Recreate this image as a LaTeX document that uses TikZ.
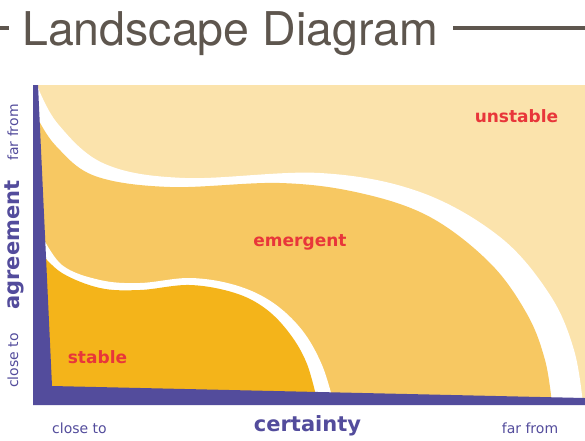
\documentclass[tikz,border=0pt]{standalone}
\usepackage{fontspec}
\setmainfont{DejaVu Sans}
\newfontfamily\headfont{TeX Gyre Heros}
\definecolor{paleyel}{RGB}{251,227,172}
\definecolor{midyel}{RGB}{247,200,98}
\definecolor{deepyel}{RGB}{244,180,26}
\definecolor{axisblue}{RGB}{83,76,156}
\definecolor{zonered}{RGB}{232,54,58}
\definecolor{headgray}{RGB}{94,86,78}

\begin{document}
\begin{tikzpicture}[x=1pt,y=-1pt,
  zonelabel/.style={text=zonered,font=\bfseries\fontsize{17}{20}\selectfont,
    anchor=base,inner sep=0pt},
  axislabel/.style={text=axisblue,font=\fontsize{14}{16}\selectfont,inner sep=0pt},
  axistitle/.style={text=axisblue,font=\bfseries\fontsize{21}{24}\selectfont,
    inner sep=0pt},
  headrule/.style={headgray,line width=3.5pt}]
  \useasboundingbox[fill=white] (0,0) rectangle (585,440);

  % title with its two rules
  \node[anchor=base west,inner sep=0pt,text=headgray,
    font=\headfont\fontsize{46.5}{50}\selectfont] (title) at (22,45)
    {Landscape Diagram};
  \coordinate (rule a) at (0,28);
  \coordinate (rule b) at (453,28);
  \draw[headrule] (rule a) -- ++(9,0);
  \draw[headrule] (rule b) -- (585,28);

  % the three zones, outermost first
  \fill[paleyel] (36,85) rectangle (585,404);
  \fill[white] plot[smooth,tension=0.6] coordinates {(37,85) (58,124)
    (105,164) (185,178) (320,173) (420,192) (500,237) (550,295) (574,350)
    (583,404)} -- (36,404) -- cycle;
  \fill[midyel] plot[smooth,tension=0.6] coordinates {(37,117) (56,146)
    (95,176) (170,187) (280,183) (360,193) (430,217) (490,263) (527,314)
    (545,360) (552,404)} -- (36,404) -- cycle;
  \fill[white] plot[smooth,tension=0.6] coordinates {(40,232) (62,265)
    (100,280) (140,283) (190,278) (235,285) (272,302) (302,330) (322,365)
    (334,404)} -- (36,404) -- cycle;
  \fill[deepyel] plot[smooth,tension=0.6] coordinates {(40,252) (62,273)
    (100,288) (140,290) (190,285) (235,293) (266,309) (290,334) (307,364)
    (318,404)} -- (36,404) -- cycle;

  % wedge-shaped axes
  \fill[axisblue] (33,85) -- (38,85) -- (52,386) -- (585,398) -- (585,405)
    -- (33,405) -- cycle;

  \node[zonelabel] (unstable) at (516.5,122) {unstable};
  \node[zonelabel] (emergent) at (300,246) {emergent};
  \node[zonelabel] (stable) at (97.5,363) {stable};

  % axis texts
  \node[axislabel,anchor=base] (x near) at (79.5,433) {close to};
  \node[axistitle,anchor=base] (x title) at (307.5,431) {certainty};
  \node[axislabel,anchor=base] (x far) at (530,433) {far from};
  \node[axislabel,rotate=90] (y far) at (13,132.5) {far from};
  \node[axistitle,rotate=90] (y title) at (14,245) {agreement};
  \node[axislabel,rotate=90] (y near) at (13,360.5) {close to};
\end{tikzpicture}
\end{document}
